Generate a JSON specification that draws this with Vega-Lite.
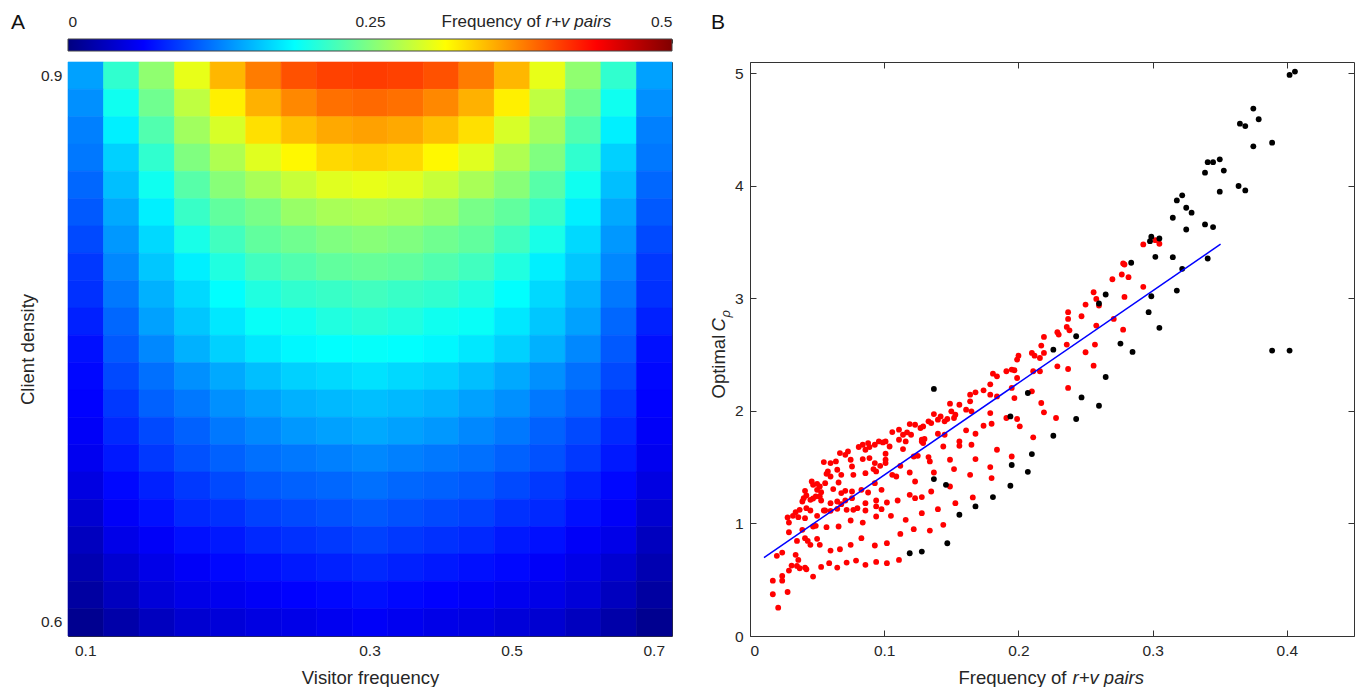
{
"$schema": "https://vega.github.io/schema/vega-lite/v6.json",
"autosize": {"type": "none"},
"padding": {"left": 68, "top": 39, "right": 1293, "bottom": 648},
"background": "white",
"config": {
  "font": "Liberation Sans",
  "view": {"stroke": null},
  "axis": {"zindex": 1, "grid": false, "domainColor": "#333333", "domainWidth": 1, "tickColor": "#333333", "tickWidth": 1, "tickSize": -6, "labelColor": "#262626", "titleColor": "#262626", "labelFontSize": 15.5, "titleFontSize": 18.5, "titleFontWeight": "normal", "labelFont": "Liberation Sans", "titleFont": "Liberation Sans"},
  "title": {"font": "Liberation Sans", "fontSize": 21, "fontWeight": "normal", "color": "#111111"}
},
"datasets": {
  "bar": [{"lo": 0, "hi": 0.5, "b0": 0, "b1": 1}],
  "fit": [{"x": 0.0104, "y": 0.697}, {"x": 0.3506, "y": 3.481}],
  "heat": [
{"v":0.1,"c":0.9,"f":0.141},{"v":0.125,"c":0.9,"f":0.211},{"v":0.15,"c":0.9,"f":0.258},{"v":0.175,"c":0.9,"f":0.301},{"v":0.2,"c":0.9,"f":0.348},{"v":0.225,"c":0.9,"f":0.377},{"v":0.25,"c":0.9,"f":0.398},{"v":0.275,"c":0.9,"f":0.406},{"v":0.3,"c":0.9,"f":0.408},{"v":0.35,"c":0.9,"f":0.406},{"v":0.4,"c":0.9,"f":0.398},{"v":0.45,"c":0.9,"f":0.377},{"v":0.5,"c":0.9,"f":0.348},{"v":0.55,"c":0.9,"f":0.301},{"v":0.6,"c":0.9,"f":0.258},{"v":0.65,"c":0.9,"f":0.211},{"v":0.7,"c":0.9,"f":0.141},
{"v":0.1,"c":0.885,"f":0.133},{"v":0.125,"c":0.885,"f":0.195},{"v":0.15,"c":0.885,"f":0.242},{"v":0.175,"c":0.885,"f":0.281},{"v":0.2,"c":0.885,"f":0.32},{"v":0.225,"c":0.885,"f":0.351},{"v":0.25,"c":0.885,"f":0.371},{"v":0.275,"c":0.885,"f":0.383},{"v":0.3,"c":0.885,"f":0.386},{"v":0.35,"c":0.885,"f":0.383},{"v":0.4,"c":0.885,"f":0.371},{"v":0.45,"c":0.885,"f":0.351},{"v":0.5,"c":0.885,"f":0.32},{"v":0.55,"c":0.885,"f":0.281},{"v":0.6,"c":0.885,"f":0.242},{"v":0.65,"c":0.885,"f":0.195},{"v":0.7,"c":0.885,"f":0.133},
{"v":0.1,"c":0.87,"f":0.125},{"v":0.125,"c":0.87,"f":0.18},{"v":0.15,"c":0.87,"f":0.227},{"v":0.175,"c":0.87,"f":0.266},{"v":0.2,"c":0.87,"f":0.293},{"v":0.225,"c":0.87,"f":0.328},{"v":0.25,"c":0.87,"f":0.344},{"v":0.275,"c":0.87,"f":0.355},{"v":0.3,"c":0.87,"f":0.359},{"v":0.35,"c":0.87,"f":0.355},{"v":0.4,"c":0.87,"f":0.344},{"v":0.45,"c":0.87,"f":0.328},{"v":0.5,"c":0.87,"f":0.293},{"v":0.55,"c":0.87,"f":0.266},{"v":0.6,"c":0.87,"f":0.227},{"v":0.65,"c":0.87,"f":0.18},{"v":0.7,"c":0.87,"f":0.125},
{"v":0.1,"c":0.855,"f":0.121},{"v":0.125,"c":0.855,"f":0.165},{"v":0.15,"c":0.855,"f":0.211},{"v":0.175,"c":0.855,"f":0.25},{"v":0.2,"c":0.855,"f":0.273},{"v":0.225,"c":0.855,"f":0.297},{"v":0.25,"c":0.855,"f":0.316},{"v":0.275,"c":0.855,"f":0.331},{"v":0.3,"c":0.855,"f":0.335},{"v":0.35,"c":0.855,"f":0.331},{"v":0.4,"c":0.855,"f":0.316},{"v":0.45,"c":0.855,"f":0.297},{"v":0.5,"c":0.855,"f":0.273},{"v":0.55,"c":0.855,"f":0.25},{"v":0.6,"c":0.855,"f":0.211},{"v":0.65,"c":0.855,"f":0.165},{"v":0.7,"c":0.855,"f":0.121},
{"v":0.1,"c":0.84,"f":0.113},{"v":0.125,"c":0.84,"f":0.156},{"v":0.15,"c":0.84,"f":0.195},{"v":0.175,"c":0.84,"f":0.23},{"v":0.2,"c":0.84,"f":0.254},{"v":0.225,"c":0.84,"f":0.27},{"v":0.25,"c":0.84,"f":0.285},{"v":0.275,"c":0.84,"f":0.297},{"v":0.3,"c":0.84,"f":0.301},{"v":0.35,"c":0.84,"f":0.297},{"v":0.4,"c":0.84,"f":0.285},{"v":0.45,"c":0.84,"f":0.27},{"v":0.5,"c":0.84,"f":0.254},{"v":0.55,"c":0.84,"f":0.23},{"v":0.6,"c":0.84,"f":0.195},{"v":0.65,"c":0.84,"f":0.156},{"v":0.7,"c":0.84,"f":0.113},
{"v":0.1,"c":0.825,"f":0.106},{"v":0.125,"c":0.825,"f":0.145},{"v":0.15,"c":0.825,"f":0.18},{"v":0.175,"c":0.825,"f":0.215},{"v":0.2,"c":0.825,"f":0.235},{"v":0.225,"c":0.825,"f":0.246},{"v":0.25,"c":0.825,"f":0.262},{"v":0.275,"c":0.825,"f":0.27},{"v":0.3,"c":0.825,"f":0.273},{"v":0.35,"c":0.825,"f":0.27},{"v":0.4,"c":0.825,"f":0.262},{"v":0.45,"c":0.825,"f":0.246},{"v":0.5,"c":0.825,"f":0.235},{"v":0.55,"c":0.825,"f":0.215},{"v":0.6,"c":0.825,"f":0.18},{"v":0.65,"c":0.825,"f":0.145},{"v":0.7,"c":0.825,"f":0.106},
{"v":0.1,"c":0.81,"f":0.098},{"v":0.125,"c":0.81,"f":0.137},{"v":0.15,"c":0.81,"f":0.169},{"v":0.175,"c":0.81,"f":0.199},{"v":0.2,"c":0.81,"f":0.219},{"v":0.225,"c":0.81,"f":0.235},{"v":0.25,"c":0.81,"f":0.242},{"v":0.275,"c":0.81,"f":0.25},{"v":0.3,"c":0.81,"f":0.254},{"v":0.35,"c":0.81,"f":0.25},{"v":0.4,"c":0.81,"f":0.242},{"v":0.45,"c":0.81,"f":0.235},{"v":0.5,"c":0.81,"f":0.219},{"v":0.55,"c":0.81,"f":0.199},{"v":0.6,"c":0.81,"f":0.169},{"v":0.65,"c":0.81,"f":0.137},{"v":0.7,"c":0.81,"f":0.098},
{"v":0.1,"c":0.795,"f":0.09},{"v":0.125,"c":0.795,"f":0.129},{"v":0.15,"c":0.795,"f":0.16},{"v":0.175,"c":0.795,"f":0.18},{"v":0.2,"c":0.795,"f":0.203},{"v":0.225,"c":0.795,"f":0.219},{"v":0.25,"c":0.795,"f":0.227},{"v":0.275,"c":0.795,"f":0.235},{"v":0.3,"c":0.795,"f":0.238},{"v":0.35,"c":0.795,"f":0.235},{"v":0.4,"c":0.795,"f":0.227},{"v":0.45,"c":0.795,"f":0.219},{"v":0.5,"c":0.795,"f":0.203},{"v":0.55,"c":0.795,"f":0.18},{"v":0.6,"c":0.795,"f":0.16},{"v":0.65,"c":0.795,"f":0.129},{"v":0.7,"c":0.795,"f":0.09},
{"v":0.1,"c":0.78,"f":0.086},{"v":0.125,"c":0.78,"f":0.121},{"v":0.15,"c":0.78,"f":0.149},{"v":0.175,"c":0.78,"f":0.169},{"v":0.2,"c":0.78,"f":0.188},{"v":0.225,"c":0.78,"f":0.203},{"v":0.25,"c":0.78,"f":0.211},{"v":0.275,"c":0.78,"f":0.215},{"v":0.3,"c":0.78,"f":0.219},{"v":0.35,"c":0.78,"f":0.215},{"v":0.4,"c":0.78,"f":0.211},{"v":0.45,"c":0.78,"f":0.203},{"v":0.5,"c":0.78,"f":0.188},{"v":0.55,"c":0.78,"f":0.169},{"v":0.6,"c":0.78,"f":0.149},{"v":0.65,"c":0.78,"f":0.121},{"v":0.7,"c":0.78,"f":0.086},
{"v":0.1,"c":0.765,"f":0.078},{"v":0.125,"c":0.765,"f":0.113},{"v":0.15,"c":0.765,"f":0.141},{"v":0.175,"c":0.765,"f":0.16},{"v":0.2,"c":0.765,"f":0.176},{"v":0.225,"c":0.765,"f":0.191},{"v":0.25,"c":0.765,"f":0.195},{"v":0.275,"c":0.765,"f":0.203},{"v":0.3,"c":0.765,"f":0.207},{"v":0.35,"c":0.765,"f":0.203},{"v":0.4,"c":0.765,"f":0.195},{"v":0.45,"c":0.765,"f":0.191},{"v":0.5,"c":0.765,"f":0.176},{"v":0.55,"c":0.765,"f":0.16},{"v":0.6,"c":0.765,"f":0.141},{"v":0.65,"c":0.765,"f":0.113},{"v":0.7,"c":0.765,"f":0.078},
{"v":0.1,"c":0.75,"f":0.07},{"v":0.125,"c":0.75,"f":0.106},{"v":0.15,"c":0.75,"f":0.129},{"v":0.175,"c":0.75,"f":0.149},{"v":0.2,"c":0.75,"f":0.165},{"v":0.225,"c":0.75,"f":0.176},{"v":0.25,"c":0.75,"f":0.184},{"v":0.275,"c":0.75,"f":0.188},{"v":0.3,"c":0.75,"f":0.19},{"v":0.35,"c":0.75,"f":0.188},{"v":0.4,"c":0.75,"f":0.184},{"v":0.45,"c":0.75,"f":0.176},{"v":0.5,"c":0.75,"f":0.165},{"v":0.55,"c":0.75,"f":0.149},{"v":0.6,"c":0.75,"f":0.129},{"v":0.65,"c":0.75,"f":0.106},{"v":0.7,"c":0.75,"f":0.07},
{"v":0.1,"c":0.735,"f":0.066},{"v":0.125,"c":0.735,"f":0.098},{"v":0.15,"c":0.735,"f":0.117},{"v":0.175,"c":0.735,"f":0.133},{"v":0.2,"c":0.735,"f":0.145},{"v":0.225,"c":0.735,"f":0.156},{"v":0.25,"c":0.735,"f":0.165},{"v":0.275,"c":0.735,"f":0.169},{"v":0.3,"c":0.735,"f":0.173},{"v":0.35,"c":0.735,"f":0.169},{"v":0.4,"c":0.735,"f":0.165},{"v":0.45,"c":0.735,"f":0.156},{"v":0.5,"c":0.735,"f":0.145},{"v":0.55,"c":0.735,"f":0.133},{"v":0.6,"c":0.735,"f":0.117},{"v":0.65,"c":0.735,"f":0.098},{"v":0.7,"c":0.735,"f":0.066},
{"v":0.1,"c":0.72,"f":0.063},{"v":0.125,"c":0.72,"f":0.09},{"v":0.15,"c":0.72,"f":0.11},{"v":0.175,"c":0.72,"f":0.121},{"v":0.2,"c":0.72,"f":0.133},{"v":0.225,"c":0.72,"f":0.141},{"v":0.25,"c":0.72,"f":0.149},{"v":0.275,"c":0.72,"f":0.153},{"v":0.3,"c":0.72,"f":0.156},{"v":0.35,"c":0.72,"f":0.153},{"v":0.4,"c":0.72,"f":0.149},{"v":0.45,"c":0.72,"f":0.141},{"v":0.5,"c":0.72,"f":0.133},{"v":0.55,"c":0.72,"f":0.121},{"v":0.6,"c":0.72,"f":0.11},{"v":0.65,"c":0.72,"f":0.09},{"v":0.7,"c":0.72,"f":0.063},
{"v":0.1,"c":0.705,"f":0.059},{"v":0.125,"c":0.705,"f":0.082},{"v":0.15,"c":0.705,"f":0.098},{"v":0.175,"c":0.705,"f":0.11},{"v":0.2,"c":0.705,"f":0.121},{"v":0.225,"c":0.705,"f":0.129},{"v":0.25,"c":0.705,"f":0.137},{"v":0.275,"c":0.705,"f":0.141},{"v":0.3,"c":0.705,"f":0.145},{"v":0.35,"c":0.705,"f":0.141},{"v":0.4,"c":0.705,"f":0.137},{"v":0.45,"c":0.705,"f":0.129},{"v":0.5,"c":0.705,"f":0.121},{"v":0.55,"c":0.705,"f":0.11},{"v":0.6,"c":0.705,"f":0.098},{"v":0.65,"c":0.705,"f":0.082},{"v":0.7,"c":0.705,"f":0.059},
{"v":0.1,"c":0.69,"f":0.055},{"v":0.125,"c":0.69,"f":0.074},{"v":0.15,"c":0.69,"f":0.09},{"v":0.175,"c":0.69,"f":0.102},{"v":0.2,"c":0.69,"f":0.11},{"v":0.225,"c":0.69,"f":0.117},{"v":0.25,"c":0.69,"f":0.121},{"v":0.275,"c":0.69,"f":0.125},{"v":0.3,"c":0.69,"f":0.129},{"v":0.35,"c":0.69,"f":0.125},{"v":0.4,"c":0.69,"f":0.121},{"v":0.45,"c":0.69,"f":0.117},{"v":0.5,"c":0.69,"f":0.11},{"v":0.55,"c":0.69,"f":0.102},{"v":0.6,"c":0.69,"f":0.09},{"v":0.65,"c":0.69,"f":0.074},{"v":0.7,"c":0.69,"f":0.055},
{"v":0.1,"c":0.675,"f":0.048},{"v":0.125,"c":0.675,"f":0.066},{"v":0.15,"c":0.675,"f":0.078},{"v":0.175,"c":0.675,"f":0.09},{"v":0.2,"c":0.675,"f":0.098},{"v":0.225,"c":0.675,"f":0.106},{"v":0.25,"c":0.675,"f":0.11},{"v":0.275,"c":0.675,"f":0.113},{"v":0.3,"c":0.675,"f":0.117},{"v":0.35,"c":0.675,"f":0.113},{"v":0.4,"c":0.675,"f":0.11},{"v":0.45,"c":0.675,"f":0.106},{"v":0.5,"c":0.675,"f":0.098},{"v":0.55,"c":0.675,"f":0.09},{"v":0.6,"c":0.675,"f":0.078},{"v":0.65,"c":0.675,"f":0.066},{"v":0.7,"c":0.675,"f":0.048},
{"v":0.1,"c":0.66,"f":0.04},{"v":0.125,"c":0.66,"f":0.059},{"v":0.15,"c":0.66,"f":0.07},{"v":0.175,"c":0.66,"f":0.082},{"v":0.2,"c":0.66,"f":0.086},{"v":0.225,"c":0.66,"f":0.094},{"v":0.25,"c":0.66,"f":0.098},{"v":0.275,"c":0.66,"f":0.102},{"v":0.3,"c":0.66,"f":0.106},{"v":0.35,"c":0.66,"f":0.102},{"v":0.4,"c":0.66,"f":0.098},{"v":0.45,"c":0.66,"f":0.094},{"v":0.5,"c":0.66,"f":0.086},{"v":0.55,"c":0.66,"f":0.082},{"v":0.6,"c":0.66,"f":0.07},{"v":0.65,"c":0.66,"f":0.059},{"v":0.7,"c":0.66,"f":0.04},
{"v":0.1,"c":0.645,"f":0.031},{"v":0.125,"c":0.645,"f":0.051},{"v":0.15,"c":0.645,"f":0.059},{"v":0.175,"c":0.645,"f":0.07},{"v":0.2,"c":0.645,"f":0.074},{"v":0.225,"c":0.645,"f":0.082},{"v":0.25,"c":0.645,"f":0.086},{"v":0.275,"c":0.645,"f":0.09},{"v":0.3,"c":0.645,"f":0.094},{"v":0.35,"c":0.645,"f":0.09},{"v":0.4,"c":0.645,"f":0.086},{"v":0.45,"c":0.645,"f":0.082},{"v":0.5,"c":0.645,"f":0.074},{"v":0.55,"c":0.645,"f":0.07},{"v":0.6,"c":0.645,"f":0.059},{"v":0.65,"c":0.645,"f":0.051},{"v":0.7,"c":0.645,"f":0.031},
{"v":0.1,"c":0.63,"f":0.024},{"v":0.125,"c":0.63,"f":0.04},{"v":0.15,"c":0.63,"f":0.051},{"v":0.175,"c":0.63,"f":0.059},{"v":0.2,"c":0.63,"f":0.066},{"v":0.225,"c":0.63,"f":0.07},{"v":0.25,"c":0.63,"f":0.074},{"v":0.275,"c":0.63,"f":0.078},{"v":0.3,"c":0.63,"f":0.082},{"v":0.35,"c":0.63,"f":0.078},{"v":0.4,"c":0.63,"f":0.074},{"v":0.45,"c":0.63,"f":0.07},{"v":0.5,"c":0.63,"f":0.066},{"v":0.55,"c":0.63,"f":0.059},{"v":0.6,"c":0.63,"f":0.051},{"v":0.65,"c":0.63,"f":0.04},{"v":0.7,"c":0.63,"f":0.024},
{"v":0.1,"c":0.615,"f":0.016},{"v":0.125,"c":0.615,"f":0.031},{"v":0.15,"c":0.615,"f":0.044},{"v":0.175,"c":0.615,"f":0.051},{"v":0.2,"c":0.615,"f":0.055},{"v":0.225,"c":0.615,"f":0.059},{"v":0.25,"c":0.615,"f":0.063},{"v":0.275,"c":0.615,"f":0.066},{"v":0.3,"c":0.615,"f":0.07},{"v":0.35,"c":0.615,"f":0.066},{"v":0.4,"c":0.615,"f":0.063},{"v":0.45,"c":0.615,"f":0.059},{"v":0.5,"c":0.615,"f":0.055},{"v":0.55,"c":0.615,"f":0.051},{"v":0.6,"c":0.615,"f":0.044},{"v":0.65,"c":0.615,"f":0.031},{"v":0.7,"c":0.615,"f":0.016},
{"v":0.1,"c":0.6,"f":0.008},{"v":0.125,"c":0.6,"f":0.02},{"v":0.15,"c":0.6,"f":0.031},{"v":0.175,"c":0.6,"f":0.04},{"v":0.2,"c":0.6,"f":0.044},{"v":0.225,"c":0.6,"f":0.048},{"v":0.25,"c":0.6,"f":0.051},{"v":0.275,"c":0.6,"f":0.055},{"v":0.3,"c":0.6,"f":0.059},{"v":0.35,"c":0.6,"f":0.055},{"v":0.4,"c":0.6,"f":0.051},{"v":0.45,"c":0.6,"f":0.048},{"v":0.5,"c":0.6,"f":0.044},{"v":0.55,"c":0.6,"f":0.04},{"v":0.6,"c":0.6,"f":0.031},{"v":0.65,"c":0.6,"f":0.02},{"v":0.7,"c":0.6,"f":0.008}
  ],
  "pts": [
{"x":0.021,"y":0.252,"g":"r"},{"x":0.017,"y":0.371,"g":"r"},{"x":0.028,"y":0.391,"g":"r"},{"x":0.017,"y":0.492,"g":"r"},{"x":0.024,"y":0.492,"g":"r"},{"x":0.024,"y":0.534,"g":"r"},{"x":0.029,"y":0.581,"g":"r"},{"x":0.031,"y":0.626,"g":"r"},{"x":0.035,"y":0.623,"g":"r"},{"x":0.037,"y":0.602,"g":"r"},{"x":0.041,"y":0.608,"g":"r"},{"x":0.042,"y":0.593,"g":"r"},{"x":0.047,"y":0.528,"g":"r"},{"x":0.053,"y":0.614,"g":"r"},{"x":0.059,"y":0.647,"g":"r"},{"x":0.065,"y":0.608,"g":"r"},{"x":0.072,"y":0.652,"g":"r"},{"x":0.079,"y":0.67,"g":"r"},{"x":0.086,"y":0.632,"g":"r"},{"x":0.094,"y":0.658,"g":"r"},
{"x":0.02,"y":0.712,"g":"r"},{"x":0.024,"y":0.741,"g":"r"},{"x":0.034,"y":0.721,"g":"r"},{"x":0.036,"y":0.676,"g":"r"},{"x":0.041,"y":0.869,"g":"r"},{"x":0.043,"y":0.845,"g":"r"},{"x":0.045,"y":0.81,"g":"r"},{"x":0.05,"y":0.863,"g":"r"},{"x":0.052,"y":0.81,"g":"r"},{"x":0.06,"y":0.759,"g":"r"},{"x":0.067,"y":0.771,"g":"r"},{"x":0.075,"y":0.81,"g":"r"},{"x":0.083,"y":0.869,"g":"r"},{"x":0.093,"y":0.804,"g":"r"},{"x":0.029,"y":0.922,"g":"r"},{"x":0.035,"y":0.845,"g":"r"},{"x":0.039,"y":0.943,"g":"r"},{"x":0.047,"y":0.973,"g":"r"},{"x":0.049,"y":0.979,"g":"r"},{"x":0.057,"y":0.967,"g":"r"},
{"x":0.066,"y":0.973,"g":"r"},{"x":0.075,"y":1.026,"g":"r"},{"x":0.084,"y":1.008,"g":"r"},{"x":0.094,"y":1.062,"g":"r"},{"x":0.029,"y":1.008,"g":"r"},{"x":0.028,"y":1.053,"g":"r"},{"x":0.032,"y":1.068,"g":"r"},{"x":0.034,"y":1.1,"g":"r"},{"x":0.036,"y":1.056,"g":"r"},{"x":0.037,"y":1.121,"g":"r"},{"x":0.041,"y":1.047,"g":"r"},{"x":0.042,"y":1.136,"g":"r"},{"x":0.045,"y":1.115,"g":"r"},{"x":0.05,"y":1.068,"g":"r"},{"x":0.055,"y":1.115,"g":"r"},{"x":0.056,"y":1.115,"g":"r"},{"x":0.06,"y":1.112,"g":"r"},{"x":0.065,"y":1.13,"g":"r"},{"x":0.068,"y":1.171,"g":"r"},{"x":0.072,"y":1.121,"g":"r"},
{"x":0.077,"y":1.121,"g":"r"},{"x":0.08,"y":1.136,"g":"r"},{"x":0.086,"y":1.115,"g":"r"},{"x":0.094,"y":1.151,"g":"r"},{"x":0.039,"y":1.195,"g":"r"},{"x":0.04,"y":1.225,"g":"r"},{"x":0.042,"y":1.248,"g":"r"},{"x":0.041,"y":1.29,"g":"r"},{"x":0.045,"y":1.21,"g":"r"},{"x":0.047,"y":1.222,"g":"r"},{"x":0.049,"y":1.24,"g":"r"},{"x":0.05,"y":1.299,"g":"r"},{"x":0.052,"y":1.24,"g":"r"},{"x":0.053,"y":1.204,"g":"r"},{"x":0.06,"y":1.18,"g":"r"},{"x":0.065,"y":1.195,"g":"r"},{"x":0.071,"y":1.204,"g":"r"},{"x":0.076,"y":1.225,"g":"r"},{"x":0.086,"y":1.18,"g":"r"},{"x":0.094,"y":1.204,"g":"r"},
{"x":0.046,"y":1.373,"g":"r"},{"x":0.047,"y":1.343,"g":"r"},{"x":0.05,"y":1.352,"g":"r"},{"x":0.052,"y":1.328,"g":"r"},{"x":0.053,"y":1.278,"g":"r"},{"x":0.056,"y":1.358,"g":"r"},{"x":0.057,"y":1.441,"g":"r"},{"x":0.058,"y":1.462,"g":"r"},{"x":0.06,"y":1.417,"g":"r"},{"x":0.062,"y":1.305,"g":"r"},{"x":0.066,"y":1.364,"g":"r"},{"x":0.068,"y":1.27,"g":"r"},{"x":0.071,"y":1.29,"g":"r"},{"x":0.076,"y":1.284,"g":"r"},{"x":0.083,"y":1.299,"g":"r"},{"x":0.088,"y":1.275,"g":"r"},{"x":0.093,"y":1.358,"g":"r"},{"x":0.055,"y":1.545,"g":"r"},{"x":0.06,"y":1.536,"g":"r"},{"x":0.064,"y":1.551,"g":"r"},
{"x":0.065,"y":1.477,"g":"r"},{"x":0.067,"y":1.625,"g":"r"},{"x":0.068,"y":1.432,"g":"r"},{"x":0.071,"y":1.61,"g":"r"},{"x":0.073,"y":1.64,"g":"r"},{"x":0.075,"y":1.566,"g":"r"},{"x":0.076,"y":1.506,"g":"r"},{"x":0.077,"y":1.432,"g":"r"},{"x":0.084,"y":1.572,"g":"r"},{"x":0.086,"y":1.447,"g":"r"},{"x":0.089,"y":1.581,"g":"r"},{"x":0.093,"y":1.536,"g":"r"},{"x":0.094,"y":1.462,"g":"r"},{"x":0.086,"y":1.655,"g":"r"},{"x":0.081,"y":1.679,"g":"r"},{"x":0.084,"y":1.699,"g":"r"},{"x":0.088,"y":1.714,"g":"r"},{"x":0.089,"y":1.679,"g":"r"},{"x":0.093,"y":1.699,"g":"r"},{"x":0.096,"y":1.729,"g":"r"},{"x":0.092,"y":1.483,"g":"r"},
{"x":0.179,"y":2.236,"g":"r"},{"x":0.164,"y":2.144,"g":"r"},{"x":0.168,"y":2.165,"g":"r"},{"x":0.174,"y":2.183,"g":"r"},{"x":0.179,"y":2.144,"g":"r"},{"x":0.184,"y":2.129,"g":"r"},{"x":0.149,"y":2.064,"g":"r"},{"x":0.156,"y":2.055,"g":"r"},{"x":0.164,"y":2.085,"g":"r"},{"x":0.161,"y":2.011,"g":"r"},{"x":0.165,"y":1.996,"g":"r"},{"x":0.137,"y":1.972,"g":"r"},{"x":0.142,"y":1.951,"g":"r"},{"x":0.147,"y":1.928,"g":"r"},{"x":0.15,"y":1.996,"g":"r"},{"x":0.153,"y":1.966,"g":"r"},{"x":0.152,"y":1.937,"g":"r"},{"x":0.119,"y":1.883,"g":"r"},{"x":0.123,"y":1.877,"g":"r"},{"x":0.127,"y":1.848,"g":"r"},
{"x":0.129,"y":1.862,"g":"r"},{"x":0.133,"y":1.907,"g":"r"},{"x":0.135,"y":1.892,"g":"r"},{"x":0.14,"y":1.922,"g":"r"},{"x":0.145,"y":1.907,"g":"r"},{"x":0.106,"y":1.812,"g":"r"},{"x":0.111,"y":1.833,"g":"r"},{"x":0.114,"y":1.788,"g":"r"},{"x":0.117,"y":1.809,"g":"r"},{"x":0.12,"y":1.788,"g":"r"},{"x":0.128,"y":1.744,"g":"r"},{"x":0.13,"y":1.75,"g":"r"},{"x":0.14,"y":1.797,"g":"r"},{"x":0.145,"y":1.788,"g":"r"},{"x":0.161,"y":1.827,"g":"r"},{"x":0.168,"y":1.797,"g":"r"},{"x":0.174,"y":1.868,"g":"r"},{"x":0.179,"y":1.981,"g":"r"},{"x":0.18,"y":1.886,"g":"r"},{"x":0.099,"y":1.72,"g":"r"},
{"x":0.101,"y":1.729,"g":"r"},{"x":0.104,"y":1.684,"g":"r"},{"x":0.111,"y":1.744,"g":"r"},{"x":0.116,"y":1.729,"g":"r"},{"x":0.114,"y":1.661,"g":"r"},{"x":0.128,"y":1.729,"g":"r"},{"x":0.129,"y":1.714,"g":"r"},{"x":0.144,"y":1.684,"g":"r"},{"x":0.156,"y":1.729,"g":"r"},{"x":0.156,"y":1.69,"g":"r"},{"x":0.165,"y":1.699,"g":"r"},{"x":0.184,"y":1.655,"g":"r"},{"x":0.101,"y":1.619,"g":"r"},{"x":0.101,"y":1.536,"g":"r"},{"x":0.097,"y":1.512,"g":"r"},{"x":0.101,"y":1.566,"g":"r"},{"x":0.106,"y":1.432,"g":"r"},{"x":0.109,"y":1.417,"g":"r"},{"x":0.112,"y":1.512,"g":"r"},{"x":0.122,"y":1.595,"g":"r"},
{"x":0.125,"y":1.601,"g":"r"},{"x":0.133,"y":1.59,"g":"r"},{"x":0.134,"y":1.551,"g":"r"},{"x":0.119,"y":1.453,"g":"r"},{"x":0.123,"y":1.373,"g":"r"},{"x":0.137,"y":1.453,"g":"r"},{"x":0.149,"y":1.566,"g":"r"},{"x":0.152,"y":1.483,"g":"r"},{"x":0.164,"y":1.432,"g":"r"},{"x":0.168,"y":1.572,"g":"r"},{"x":0.179,"y":1.501,"g":"r"},{"x":0.18,"y":1.403,"g":"r"},{"x":0.098,"y":1.299,"g":"r"},{"x":0.102,"y":1.186,"g":"r"},{"x":0.098,"y":1.127,"g":"r"},{"x":0.11,"y":1.204,"g":"r"},{"x":0.119,"y":1.254,"g":"r"},{"x":0.123,"y":1.225,"g":"r"},{"x":0.128,"y":1.234,"g":"r"},{"x":0.135,"y":1.284,"g":"r"},
{"x":0.149,"y":1.328,"g":"r"},{"x":0.153,"y":1.18,"g":"r"},{"x":0.166,"y":1.231,"g":"r"},{"x":0.105,"y":1.068,"g":"r"},{"x":0.116,"y":1.032,"g":"r"},{"x":0.122,"y":0.949,"g":"r"},{"x":0.128,"y":1.091,"g":"r"},{"x":0.134,"y":0.937,"g":"r"},{"x":0.14,"y":1.127,"g":"r"},{"x":0.144,"y":0.988,"g":"r"},{"x":0.112,"y":0.907,"g":"r"},{"x":0.102,"y":0.825,"g":"r"},{"x":0.102,"y":0.647,"g":"r"},{"x":0.111,"y":0.676,"g":"r"},
{"x":0.256,"y":3.054,"g":"r"},{"x":0.258,"y":2.995,"g":"r"},{"x":0.26,"y":2.936,"g":"r"},{"x":0.279,"y":3.013,"g":"r"},{"x":0.25,"y":2.945,"g":"r"},{"x":0.247,"y":2.841,"g":"r"},{"x":0.237,"y":2.877,"g":"r"},{"x":0.237,"y":2.817,"g":"r"},{"x":0.236,"y":2.746,"g":"r"},{"x":0.238,"y":2.716,"g":"r"},{"x":0.229,"y":2.699,"g":"r"},{"x":0.23,"y":2.678,"g":"r"},{"x":0.219,"y":2.657,"g":"r"},{"x":0.217,"y":2.58,"g":"r"},{"x":0.219,"y":2.515,"g":"r"},{"x":0.216,"y":2.47,"g":"r"},{"x":0.21,"y":2.515,"g":"r"},{"x":0.212,"y":2.491,"g":"r"},{"x":0.2,"y":2.491,"g":"r"},{"x":0.199,"y":2.456,"g":"r"},
{"x":0.181,"y":2.331,"g":"r"},{"x":0.184,"y":2.307,"g":"r"},{"x":0.191,"y":2.352,"g":"r"},{"x":0.195,"y":2.367,"g":"r"},{"x":0.197,"y":2.361,"g":"r"},{"x":0.199,"y":2.292,"g":"r"},{"x":0.211,"y":2.352,"g":"r"},{"x":0.216,"y":2.352,"g":"r"},{"x":0.271,"y":2.817,"g":"r"},{"x":0.258,"y":2.758,"g":"r"},{"x":0.278,"y":2.722,"g":"r"},{"x":0.257,"y":2.589,"g":"r"},{"x":0.236,"y":2.589,"g":"r"},{"x":0.25,"y":2.521,"g":"r"},{"x":0.229,"y":2.396,"g":"r"},{"x":0.237,"y":2.372,"g":"r"},{"x":0.256,"y":2.402,"g":"r"},{"x":0.195,"y":2.204,"g":"r"},{"x":0.197,"y":2.114,"g":"r"},{"x":0.21,"y":2.174,"g":"r"},
{"x":0.217,"y":2.07,"g":"r"},{"x":0.219,"y":1.987,"g":"r"},{"x":0.237,"y":2.204,"g":"r"},{"x":0.228,"y":1.937,"g":"r"},{"x":0.191,"y":1.937,"g":"r"},{"x":0.199,"y":1.928,"g":"r"},{"x":0.201,"y":1.863,"g":"r"},{"x":0.211,"y":1.765,"g":"r"},{"x":0.195,"y":1.595,"g":"r"},
{"x":0.293,"y":3.479,"g":"r"},{"x":0.302,"y":3.517,"g":"r"},{"x":0.305,"y":3.485,"g":"r"},{"x":0.278,"y":3.31,"g":"r"},{"x":0.279,"y":3.301,"g":"r"},{"x":0.277,"y":3.212,"g":"r"},{"x":0.282,"y":3.188,"g":"r"},{"x":0.293,"y":3.102,"g":"r"},{"x":0.27,"y":3.17,"g":"r"},
{"x":0.137,"y":2.195,"g":"k"},{"x":0.137,"y":1.394,"g":"k"},{"x":0.146,"y":1.343,"g":"k"},{"x":0.181,"y":1.234,"g":"k"},{"x":0.168,"y":1.151,"g":"k"},{"x":0.156,"y":1.077,"g":"k"},{"x":0.147,"y":0.824,"g":"k"},{"x":0.128,"y":0.75,"g":"k"},{"x":0.119,"y":0.735,"g":"k"},{"x":0.265,"y":3.034,"g":"k"},{"x":0.26,"y":2.954,"g":"k"},{"x":0.243,"y":2.663,"g":"k"},{"x":0.226,"y":2.544,"g":"k"},{"x":0.276,"y":2.598,"g":"k"},{"x":0.265,"y":2.301,"g":"k"},{"x":0.247,"y":2.12,"g":"k"},{"x":0.26,"y":2.046,"g":"k"},{"x":0.207,"y":2.159,"g":"k"},{"x":0.194,"y":1.951,"g":"k"},{"x":0.243,"y":1.928,"g":"k"},
{"x":0.226,"y":1.779,"g":"k"},{"x":0.21,"y":1.616,"g":"k"},{"x":0.195,"y":1.519,"g":"k"},{"x":0.207,"y":1.459,"g":"k"},{"x":0.194,"y":1.335,"g":"k"},{"x":0.299,"y":3.547,"g":"k"},{"x":0.298,"y":3.508,"g":"k"},{"x":0.305,"y":3.532,"g":"k"},{"x":0.302,"y":3.369,"g":"k"},{"x":0.284,"y":3.316,"g":"k"},{"x":0.315,"y":3.366,"g":"k"},{"x":0.341,"y":3.354,"g":"k"},{"x":0.322,"y":3.262,"g":"k"},{"x":0.318,"y":3.069,"g":"k"},{"x":0.299,"y":3.019,"g":"k"},{"x":0.297,"y":2.877,"g":"k"},{"x":0.305,"y":2.738,"g":"k"},{"x":0.285,"y":2.524,"g":"k"},{"x":0.315,"y":3.716,"g":"k"},{"x":0.318,"y":3.87,"g":"k"},
{"x":0.322,"y":3.915,"g":"k"},{"x":0.325,"y":3.805,"g":"k"},{"x":0.329,"y":3.761,"g":"k"},{"x":0.325,"y":3.612,"g":"k"},{"x":0.339,"y":3.657,"g":"k"},{"x":0.345,"y":3.633,"g":"k"},{"x":0.35,"y":3.948,"g":"k"},{"x":0.364,"y":3.998,"g":"k"},{"x":0.369,"y":3.959,"g":"k"},{"x":0.339,"y":4.117,"g":"k"},{"x":0.341,"y":4.21,"g":"k"},{"x":0.345,"y":4.21,"g":"k"},{"x":0.35,"y":4.235,"g":"k"},{"x":0.353,"y":4.135,"g":"k"},{"x":0.402,"y":4.985,"g":"k"},{"x":0.406,"y":5.015,"g":"k"},{"x":0.375,"y":4.686,"g":"k"},{"x":0.379,"y":4.591,"g":"k"},{"x":0.365,"y":4.552,"g":"k"},{"x":0.369,"y":4.531,"g":"k"},
{"x":0.375,"y":4.351,"g":"k"},{"x":0.389,"y":4.383,"g":"k"},{"x":0.389,"y":2.536,"g":"k"},{"x":0.402,"y":2.536,"g":"k"}
  ]
},
"vconcat": [
  {
    "width": 604, "height": 12,
    "data": {"name": "bar"},
    "layer": [
      {
        "mark": {"type": "rect", "stroke": "#444444", "strokeWidth": 1,
          "fill": {"gradient": "linear", "x1": 0, "y1": 0, "x2": 1, "y2": 0, "stops": [
            {"offset": 0, "color": "#000080"}, {"offset": 0.125, "color": "#0000ff"}, {"offset": 0.25, "color": "#0080ff"},
            {"offset": 0.375, "color": "#00ffff"}, {"offset": 0.5, "color": "#80ff80"}, {"offset": 0.625, "color": "#ffff00"},
            {"offset": 0.75, "color": "#ff8000"}, {"offset": 0.875, "color": "#ff0000"}, {"offset": 1, "color": "#800000"}]}},
        "encoding": {
          "x": {"field": "lo", "type": "quantitative", "scale": {"domain": [0, 0.5], "nice": false, "zero": false},
            "axis": {"orient": "top", "values": [0, 0.25, 0.5], "format": ".2~f", "tickSize": -4, "domain": false,
              "labelPadding": 17, "labelBaseline": "alphabetic", "labelFontSize": 15.5,
              "encode": {"labels": {"update": {"align": {"signal": "datum.value >= 0.5 ? 'right' : 'center'"}}}},
              "title": "Frequency of", "titleFontSize": 17, "titleX": 373, "titleY": -13, "titleAlign": "left", "titleBaseline": "alphabetic", "titleAngle": 0}},
          "x2": {"field": "hi"},
          "y": {"field": "b0", "type": "quantitative", "scale": {"domain": [0, 1], "nice": false}, "axis": null},
          "y2": {"field": "b1"}
        }
      },
      {
        "mark": {"type": "rect", "opacity": 0},
        "encoding": {
          "x": {"field": "lo", "type": "quantitative", "scale": {"domain": [0, 0.5], "nice": false, "zero": false},
            "axis": {"orient": "top", "labels": false, "ticks": false, "domain": false,
              "title": "r+v pairs", "titleFontStyle": "italic", "titleFontSize": 17, "titleX": 477, "titleY": -13, "titleAlign": "left", "titleBaseline": "alphabetic", "titleAngle": 0}},
          "x2": {"field": "hi"},
          "y": {"field": "b0", "type": "quantitative", "scale": {"domain": [0, 1], "nice": false}, "axis": null},
          "y2": {"field": "b1"}
        }
      }
    ],
    "resolve": {"axis": {"x": "independent"}}
  },
  {
    "hconcat": [
      {
        "width": 604, "height": 574,
        "title": {"text": "A", "anchor": "start", "frame": "group", "dx": -57, "offset": 12, "baseline": "alphabetic"},
        "layer": [
          {
            "data": {"name": "heat"},
            "mark": {"type": "rect", "strokeWidth": 0.6},
            "encoding": {
              "x": {"field": "v", "type": "ordinal", "scale": {"paddingInner": 0, "paddingOuter": 0},
                "axis": {"orient": "bottom", "values": [0.1, 0.3, 0.5, 0.7], "labelAngle": 0, "labelPadding": 13,
                  "title": "Visitor frequency", "titleX": 302, "titleY": 47, "titleAlign": "center", "titleBaseline": "alphabetic"}},
              "y": {"field": "c", "type": "ordinal", "sort": "descending", "scale": {"paddingInner": 0, "paddingOuter": 0},
                "axis": {"orient": "left", "values": [0.9, 0.6], "labelPadding": 12,
                  "title": "Client density", "titleX": -34.5, "titleY": 287, "titleAlign": "center", "titleBaseline": "alphabetic", "titleAngle": 270}},
              "color": {"field": "f", "type": "quantitative",
                "scale": {"domain": [0, 0.5], "interpolate": "rgb", "range": ["#000080", "#0000ff", "#0080ff", "#00ffff", "#80ff80", "#ffff00", "#ff8000", "#ff0000", "#800000"]},
                "legend": null},
              "stroke": {"field": "f", "type": "quantitative",
                "scale": {"domain": [0, 0.5], "interpolate": "rgb", "range": ["#000080", "#0000ff", "#0080ff", "#00ffff", "#80ff80", "#ffff00", "#ff8000", "#ff0000", "#800000"]},
                "legend": null}
            }
          },
          {
            "data": {"values": [{"v": 0.1, "c": 0.9}]},
            "mark": {"type": "point", "opacity": 0},
            "encoding": {
              "x": {"field": "v", "type": "ordinal", "scale": {"paddingInner": 0, "paddingOuter": 0},
                "axis": {"orient": "top", "values": [0.1, 0.3, 0.5, 0.7], "labels": false, "title": null}},
              "y": {"field": "c", "type": "ordinal", "sort": "descending", "scale": {"paddingInner": 0, "paddingOuter": 0},
                "axis": {"orient": "right", "values": [0.9, 0.6], "labels": false, "title": null}}
            }
          }
        ],
        "resolve": {"axis": {"x": "independent", "y": "independent"}}
      },
      {
        "width": 604, "height": 574,
        "title": {"text": "B", "anchor": "start", "frame": "group", "dx": -39, "offset": 12, "baseline": "alphabetic"},
        "layer": [
          {
            "data": {"name": "pts"},
            "mark": {"type": "circle", "size": 34, "opacity": 1},
            "encoding": {
              "x": {"field": "x", "type": "quantitative", "scale": {"domain": [0, 0.45], "nice": false, "zero": false},
                "axis": {"orient": "bottom", "values": [0, 0.1, 0.2, 0.3, 0.4], "format": ".1~f", "labelPadding": 13,
                  "title": "Frequency of", "titleX": 208, "titleY": 47, "titleAlign": "left", "titleBaseline": "alphabetic"}},
              "y": {"field": "y", "type": "quantitative", "scale": {"domain": [0, 5.1], "nice": false, "zero": false},
                "axis": {"orient": "left", "values": [0, 1, 2, 3, 4, 5], "format": "d", "labelPadding": 13,
                  "title": "Optimal", "titleX": -25.5, "titleY": 336, "titleAlign": "left", "titleBaseline": "alphabetic", "titleAngle": 270}},
              "color": {"field": "g", "type": "nominal", "scale": {"domain": ["r", "k"], "range": ["#ff0000", "#000000"]}, "legend": null}
            }
          },
          {
            "data": {"name": "fit"},
            "mark": {"type": "line", "color": "#0000ff", "strokeWidth": 1.5},
            "encoding": {
              "x": {"field": "x", "type": "quantitative", "scale": {"domain": [0, 0.45], "nice": false, "zero": false},
                "axis": {"orient": "top", "values": [0, 0.1, 0.2, 0.3, 0.4], "labels": false, "title": null}},
              "y": {"field": "y", "type": "quantitative", "scale": {"domain": [0, 5.1], "nice": false, "zero": false},
                "axis": {"orient": "right", "values": [0, 1, 2, 3, 4, 5], "labels": false, "title": null}}
            }
          },
          {
            "data": {"name": "fit"},
            "mark": {"type": "line", "opacity": 0},
            "encoding": {
              "x": {"field": "x", "type": "quantitative", "scale": {"domain": [0, 0.45], "nice": false, "zero": false},
                "axis": {"orient": "bottom", "labels": false, "ticks": false, "domain": false,
                  "title": "r+v pairs", "titleFontStyle": "italic", "titleX": 322, "titleY": 47, "titleAlign": "left", "titleBaseline": "alphabetic"}},
              "y": {"field": "y", "type": "quantitative", "scale": {"domain": [0, 5.1], "nice": false, "zero": false},
                "axis": {"orient": "left", "labels": false, "ticks": false, "domain": false,
                  "title": "C", "titleFontStyle": "italic", "titleX": -25.5, "titleY": 269, "titleAlign": "left", "titleBaseline": "alphabetic", "titleAngle": 270}}
            }
          },
          {
            "data": {"name": "fit"},
            "mark": {"type": "line", "opacity": 0},
            "encoding": {
              "x": {"field": "x", "type": "quantitative", "scale": {"domain": [0, 0.45], "nice": false, "zero": false}, "axis": null},
              "y": {"field": "y", "type": "quantitative", "scale": {"domain": [0, 5.1], "nice": false, "zero": false},
                "axis": {"orient": "left", "labels": false, "ticks": false, "domain": false,
                  "title": "ρ", "titleFontStyle": "italic", "titleFontSize": 13, "titleX": -21, "titleY": 255, "titleAlign": "left", "titleBaseline": "alphabetic", "titleAngle": 270}}
            }
          }
        ],
        "resolve": {"axis": {"x": "independent", "y": "independent"}}
      }
    ],
    "spacing": 78,
    "bounds": "flush"
  }
],
"spacing": 11,
"bounds": "flush"
}
